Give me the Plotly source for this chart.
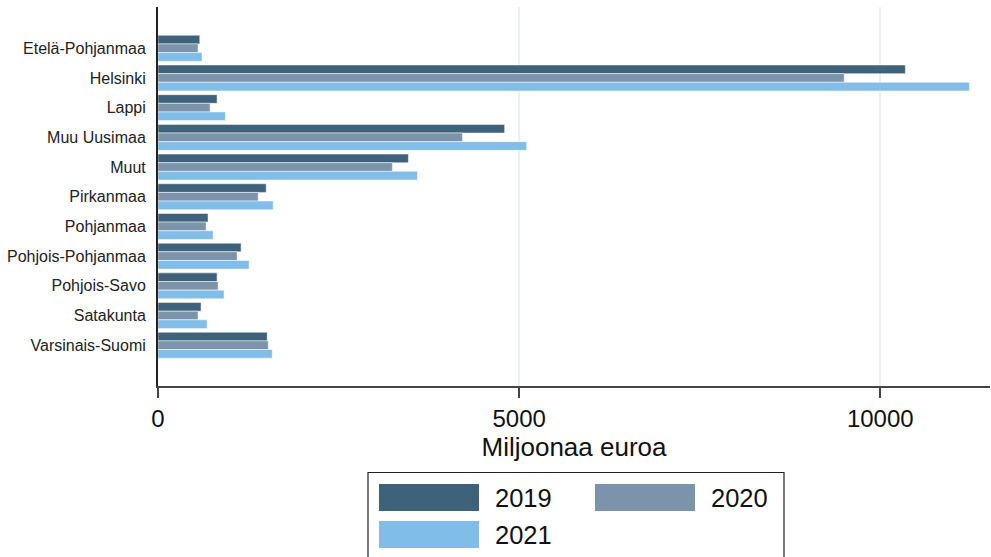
import plotly.graph_objects as go

categories = ["Etelä-Pohjanmaa", "Helsinki", "Lappi", "Muu Uusimaa", "Muut",
              "Pirkanmaa", "Pohjanmaa", "Pohjois-Pohjanmaa", "Pohjois-Savo",
              "Satakunta", "Varsinais-Suomi"]
v2019 = [578, 10347, 818, 4799, 3467, 1498, 693, 1151, 818, 596, 1512]
v2020 = [555, 9500, 721, 4216, 3245, 1387, 666, 1096, 832, 555, 1526]
v2021 = [610, 11234, 934, 5104, 3592, 1595, 763, 1262, 915, 680, 1581]
series_names = ["2019", "2020", "2021"]
colors = ["#3e627c", "#7b93ab", "#80bde9"]

W, H = 991, 557
L, R, T, B = 158, 990, 7, 386  # plot area in pixels


def px(x):
    return (x - L) / (R - L)


def py(y):
    return (B - y) / (B - T)


fig = go.Figure()
for name, vals, col in zip(series_names, [v2019, v2020, v2021], colors):
    fig.add_trace(go.Bar(
        y=categories, x=vals, name=name, orientation="h",
        marker=dict(color=col, line=dict(color="white", width=0.5)),
        showlegend=False,
    ))

# custom legend
shapes = [dict(type="rect", xref="paper", yref="paper",
               x0=px(368), x1=px(784), y0=py(600), y1=py(472.5),
               line=dict(color="#222", width=1.2), fillcolor="rgba(0,0,0,0)")]
annotations = []
legend_pos = [(379, 484), (595, 484), (379, 521)]
for (lx, ly), name, col in zip(legend_pos, series_names, colors):
    shapes.append(dict(type="rect", xref="paper", yref="paper",
                       x0=px(lx), x1=px(lx + 100), y0=py(ly + 27), y1=py(ly),
                       line=dict(width=0), fillcolor=col))
    annotations.append(dict(text=name, xref="paper", yref="paper",
                            x=px(lx + 114), y=py(ly + 14), xanchor="left",
                            yanchor="middle", showarrow=False,
                            font=dict(size=25.5, color="#111")))

fig.update_layout(
    width=W, height=H,
    margin=dict(l=L, r=W - R, t=T, b=H - B),
    paper_bgcolor="white", plot_bgcolor="white",
    barmode="group", bargap=0.127, bargroupgap=0,
    font=dict(family="Liberation Sans, Arial, sans-serif", color="#111"),
    shapes=shapes, annotations=annotations,
    xaxis=dict(
        range=[0, (R - L) / 72.23 * 1000], tickvals=[0, 5000, 10000],
        ticktext=["0", "5000", "10000"],
        showgrid=True, gridcolor="#e9eff3", gridwidth=2, zeroline=False,
        showline=True, linecolor="#444", linewidth=2,
        ticks="outside", ticklen=10, tickwidth=1.5, tickcolor="#444",
        tickfont=dict(size=24, color="#111"),
        title=dict(text="Miljoonaa euroa", font=dict(size=26, color="#111"), standoff=2),
    ),
    yaxis=dict(
        categoryorder="array", categoryarray=categories,
        range=[10 + 1.374, -1.39],
        showgrid=False, zeroline=False,
        showline=True, linecolor="#222", linewidth=2,
        ticks="", ticklabelstandoff=7,
        tickfont=dict(size=16, color="#222"),
    ),
)

fig.write_html("out.html", config={"displayModeBar": False},
               post_script="document.body.style.margin='0';document.body.style.overflow='hidden';")
